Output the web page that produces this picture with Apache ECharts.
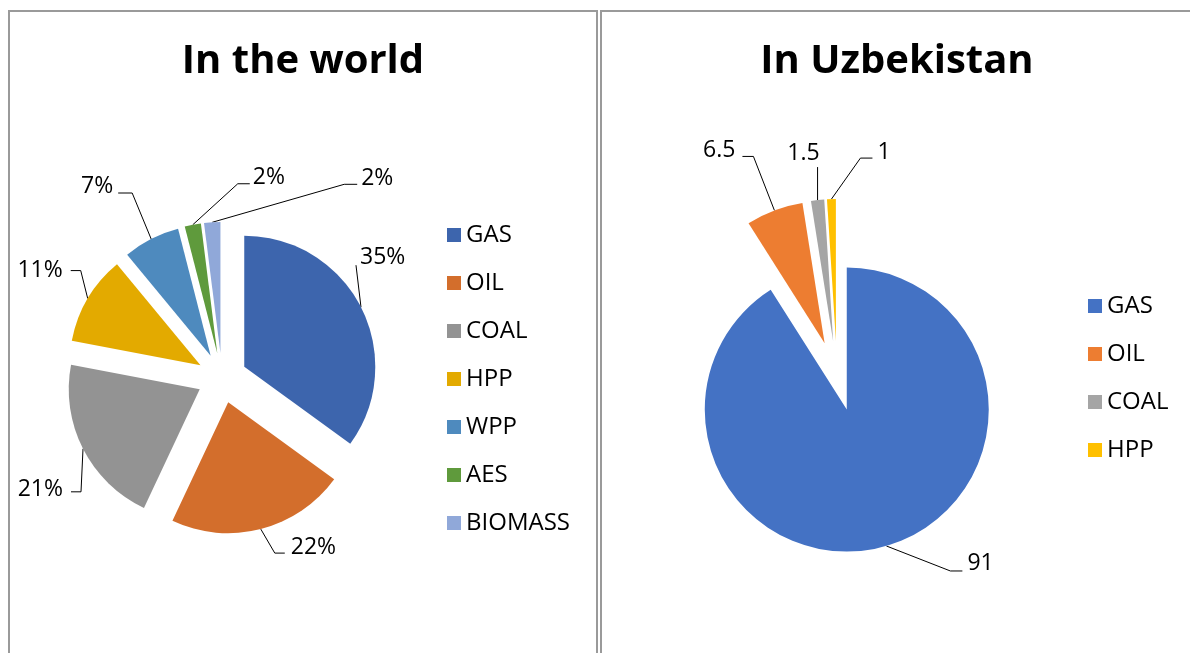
<!DOCTYPE html>
<html>
<head>
<meta charset="utf-8">
<script src="https://cdn.jsdelivr.net/npm/echarts@6/dist/echarts.min.js"></script>
<style>
  html, body { margin: 0; padding: 0; background: #fff; }
  body { width: 1190px; height: 653px; position: relative; overflow: hidden; }
  .frame { position: absolute; box-sizing: border-box; border: 2px solid #9a9a9a; border-bottom: none; }
  .chart { position: absolute; top: 0; height: 653px; }
</style>
</head>
<body>
<div class="frame" style="left:8px; top:10px; width:590px; height:660px;"></div>
<div class="frame" style="left:600px; top:10px; width:600px; height:660px;"></div>
<div id="c1" class="chart" style="left:0; width:600px;"></div>
<div id="c2" class="chart" style="left:600px; width:590px;"></div>
<script>
// ---- data ----
const worldTitle = 'In the world';
const worldCategories = ['GAS', 'OIL', 'COAL', 'HPP', 'WPP', 'AES', 'BIOMASS'];
const worldValues = [35, 22, 21, 11, 7, 2, 2];

const uzTitle = 'In Uzbekistan';
const uzCategories = ['GAS', 'OIL', 'COAL', 'HPP'];
const uzValues = [91, 6.5, 1.5, 1];

// ---- styles ----
const worldColors = ['#3d65ad', '#d36e2c', '#939393', '#e3aa00', '#4e8abe', '#5f9a3c', '#90a8d9'];
const uzColors = ['#4472c4', '#ed7d31', '#a5a5a5', '#ffc000'];
// leader-line shape per slice, relative to the library's anchor point on the slice edge:
// [elbow dx, elbow dy, horizontal run, text dx, text dy, text align]
const worldLeaders = [
  [-5, -42, 0, 4, -8, 'left'],
  [14, 24, 10, 6, -6, 'left'],
  [-2, 43, -10, -8, -2, 'right'],
  [-7, -28, -10, -8, 0, 'right'],
  [-19, -46, -14, -5, -7, 'right'],
  [45, -41, 12, 3, -6, 'left'],
  [132, -38, 13, 4, -6, 'left']
];
const uzLeaders = [
  [64, 25, 12, 5, -8, 'left'],
  [-21, -54, -11, -7, -6, 'right'],
  [0, -33, 0, 2, -14, 'right'],
  [29, -41, 12, 5, -6, 'left']
];

const FONT = '"Open Sans", "Noto Sans", sans-serif';
const LABEL_GAP = 5; // pie label distanceToLabelLine

// Convert a leader spec into the pie's own labelLine length/length2 so the library
// places the label text at the wanted spot (works in both normal and selected state).
function labelLineFor(vals, i, L) {
  const total = vals.reduce((a, b) => a + b, 0);
  let cum = 0;
  for (let k = 0; k < i; k++) cum += vals[k];
  const mid = (cum + vals[i] / 2) / total * Math.PI * 2; // clockwise from 12 o'clock
  const dx = Math.sin(mid), dy = -Math.cos(mid);
  const s = dx < 0 ? -1 : 1;
  const ax = L[0] + L[2] + L[3], ay = L[1] + L[4];
  const len = ay / dy;
  const len2 = s * (ax - len * dx) - LABEL_GAP;
  return { length: len, length2: len2 };
}

function makeOption(cfg) {
  return {
    animation: false,
    graphic: [{
      type: 'text', x: cfg.titleX, y: 62,
      style: { text: cfg.title, font: 'bold 40px ' + FONT, fill: '#000', textAlign: 'center', textVerticalAlign: 'middle' }
    }],
    legend: {
      orient: 'vertical', left: cfg.legendLeft, top: cfg.legendTop, padding: 0,
      icon: 'rect', itemWidth: 14, itemHeight: 14, itemGap: 24,
      selectedMode: false,
      textStyle: { fontFamily: FONT, fontSize: 24, lineHeight: 24, color: '#000' },
      data: cfg.cats
    },
    series: [{
      type: 'pie',
      center: cfg.center,
      radius: cfg.radius,
      startAngle: 90,
      clockwise: true,
      selectedMode: 'multiple',
      selectedOffset: cfg.offset,
      avoidLabelOverlap: false,
      emphasis: { disabled: true },
      itemStyle: { borderWidth: 0 },
      label: {
        show: true, position: 'outside', formatter: cfg.fmt,
        fontFamily: FONT, fontSize: 23, color: '#000', distanceToLabelLine: LABEL_GAP
      },
      labelLine: { show: true, smooth: false, lineStyle: { color: '#000', width: 1 } },
      labelLayout: function (p) {
        const L = cfg.leaders[p.dataIndex];
        const pts = p.labelLinePoints;
        if (!L || !pts) return {};
        const p0 = pts[0];
        const p1 = [p0[0] + L[0], p0[1] + L[1]];
        const p2 = [p1[0] + L[2], p1[1]];
        return { align: L[5], verticalAlign: 'middle', labelLinePoints: [p0, p1, p2] };
      },
      data: cfg.cats.map((c, i) => ({
        name: c, value: cfg.vals[i], selected: true,
        itemStyle: { color: cfg.colors[i] },
        labelLine: labelLineFor(cfg.vals, i, cfg.leaders[i])
      }))
    }]
  };
}

const c1 = echarts.init(document.getElementById('c1'), null, { renderer: 'canvas' });
c1.setOption(makeOption({
  title: worldTitle, titleX: 303, cats: worldCategories, vals: worldValues, colors: worldColors,
  center: [222, 378], radius: 131, offset: 25, fmt: '{c}%', legendLeft: 447, legendTop: 223,
  leaders: worldLeaders
}));

const c2 = echarts.init(document.getElementById('c2'), null, { renderer: 'canvas' });
c2.setOption(makeOption({
  title: uzTitle, titleX: 297, cats: uzCategories, vals: uzValues, colors: uzColors,
  center: [237, 376], radius: 142, offset: 35, fmt: '{c}', legendLeft: 488, legendTop: 294,
  leaders: uzLeaders
}));
</script>
</body>
</html>
